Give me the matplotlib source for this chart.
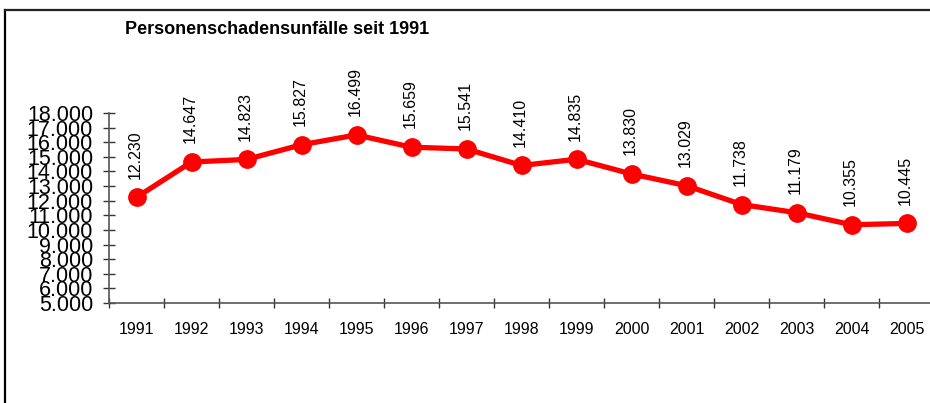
import matplotlib
matplotlib.use("Agg")
import matplotlib.pyplot as plt
from matplotlib.lines import Line2D
from matplotlib.ticker import FixedLocator, FuncFormatter

plt.rcParams['font.family'] = ['Liberation Sans', 'DejaVu Sans']

years = ["1991", "1992", "1993", "1994", "1995", "1996", "1997", "1998",
         "1999", "2000", "2001", "2002", "2003", "2004", "2005"]
values = [12230, 14647, 14823, 15827, 16499, 15659, 15541, 14410,
          14835, 13830, 13029, 11738, 11179, 10355, 10445]
y_ticks = list(range(5000, 18001, 1000))
title = "Personenschadensunfälle seit 1991"

def de_fmt(v):
    return f"{int(v):,}".replace(",", ".")

W, H = 930, 403
fig = plt.figure(figsize=(W / 100, H / 100), dpi=100)
ax = fig.add_axes([109 / W, 1 - 303 / H, 825 / W, 190 / H])

x = list(range(len(years)))
ax.plot(x, values, color='#ff0000', lw=3.8, marker='o', markersize=12.5,
        solid_joinstyle='round', clip_on=False, zorder=3)

for xi, v in zip(x, values):
    ax.annotate(de_fmt(v), (xi, v), xytext=(-1, 13.5), textcoords='offset points',
                rotation=90, ha='center', va='bottom', fontsize=11.5, color='black')

ax.set_xlim(-0.5, len(years) - 0.5)
ax.set_ylim(5000, 18000)

# y axis
ax.set_yticks(y_ticks)
ax.yaxis.set_major_formatter(FuncFormatter(lambda v, p: de_fmt(v)))
ax.tick_params(axis='y', which='major', direction='inout', length=9, width=1,
               color='#333333', labelsize=15.5, pad=7)

# x axis: ticks at category borders, labels at centers
ax.xaxis.set_major_locator(FixedLocator([i - 0.5 for i in range(len(years) + 1)]))
ax.xaxis.set_major_formatter(FuncFormatter(lambda v, p: ""))
ax.xaxis.set_minor_locator(FixedLocator(x))
ax.set_xticklabels(years, minor=True)
ax.tick_params(axis='x', which='major', direction='inout', length=7.5, width=1,
               color='#333333')
ax.tick_params(axis='x', which='minor', length=0, labelsize=11.5, pad=14)

for s in ['top', 'right']:
    ax.spines[s].set_visible(False)
for s in ['left', 'bottom']:
    ax.spines[s].set_color('#555555')
    ax.spines[s].set_linewidth(1.2)
ax.patch.set_visible(False)

# outer frame (left and top edges)
fig.add_artist(Line2D([5 / W, 5 / W], [0, 1 - 10 / H], transform=fig.transFigure,
                      color='black', lw=1.6))
fig.add_artist(Line2D([5 / W, 1], [1 - 10 / H, 1 - 10 / H], transform=fig.transFigure,
                      color='#222222', lw=1.6))

fig.text(125 / W, 1 - 29 / H, title, fontsize=13, fontweight='bold',
         ha='left', va='center')

fig.savefig("out.png", dpi=100)
